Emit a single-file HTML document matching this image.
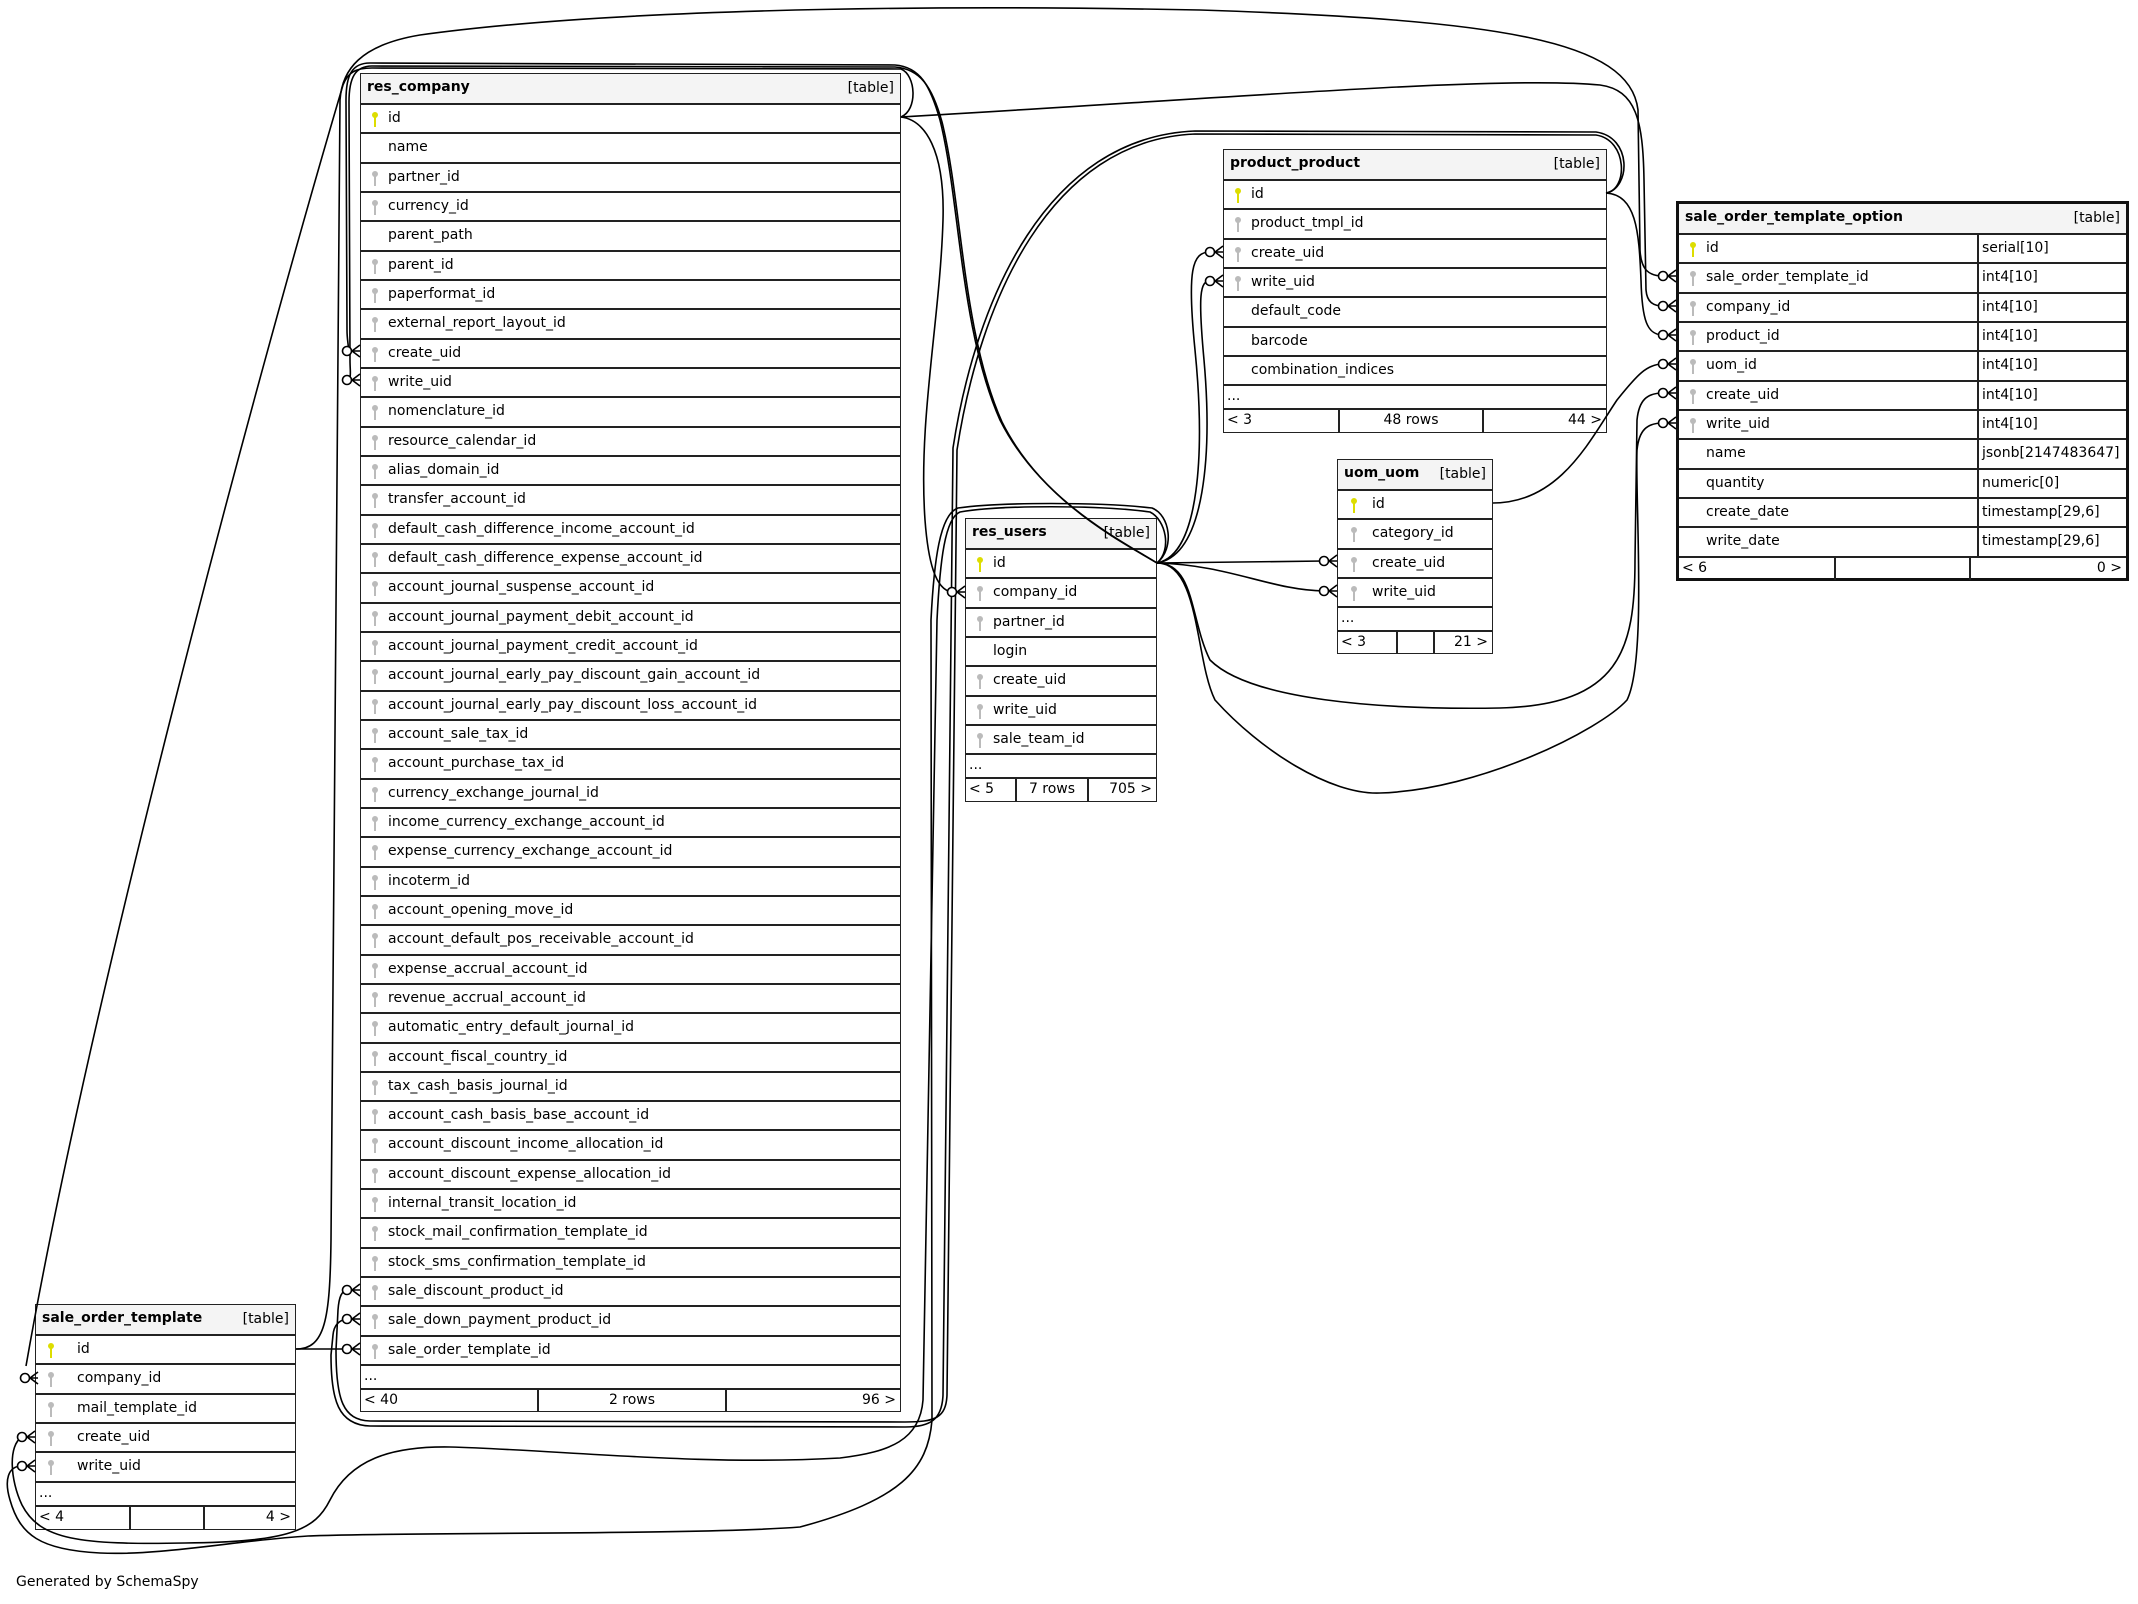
<!DOCTYPE html>
<html><head><meta charset="utf-8">
<style>
html,body{margin:0;padding:0;background:#fff;}
body{width:2138px;height:1604px;position:relative;overflow:hidden;font-family:"DejaVu Sans","Liberation Sans",sans-serif;font-size:14px;color:#000;}
.t{position:absolute;border:1.5px solid #222;background:#fff;box-sizing:border-box;}
.h{height:29px;background:#f4f4f4;position:relative;font-weight:bold;line-height:27px;padding-left:6px;}
.h span{position:absolute;right:6px;top:1px;font-weight:normal;}
.r{height:29.33px;border-top:2px solid #222;box-sizing:border-box;line-height:26px;padding-left:27px;position:relative;white-space:nowrap;}
.d{height:24px;border-top:2px solid #222;box-sizing:border-box;line-height:20px;padding-left:3px;}
.ft{height:24px;border-top:2px solid #222;box-sizing:border-box;line-height:21px;position:relative;}
.ft div{position:absolute;top:0;height:22px;box-sizing:border-box;}
.k::before,.f::before{content:'';position:absolute;left:11px;top:7px;width:6px;height:6px;border-radius:50%;}
.k::after,.f::after{content:'';position:absolute;left:13px;top:11px;width:2px;height:11px;}
.k::before,.k::after{background:#dddd00;}
.f::before,.f::after{background:#bbb;}
.wide .r{padding-left:41px;}
.wide .k::before,.wide .f::before{left:12px}.wide .k::after,.wide .f::after{left:14px}
.mid .r{padding-left:34px;}
.mid .k::before,.mid .f::before{left:13px}.mid .k::after,.mid .f::after{left:15px}
.ty{position:absolute;left:298px;top:0;height:100%;border-left:2px solid #222;padding-left:3px;}
#gen{position:absolute;left:16px;top:1574px;font-size:14px;}
svg{position:absolute;left:0;top:0;}
</style></head><body>

<!-- res_company -->
<div class="t" style="left:360px;top:73px;width:541px;height:1339px;">
<div class="h">res_company<span>[table]</span></div>
<div class="r k">id</div>
<div class="r">name</div>
<div class="r f">partner_id</div>
<div class="r f">currency_id</div>
<div class="r">parent_path</div>
<div class="r f">parent_id</div>
<div class="r f">paperformat_id</div>
<div class="r f">external_report_layout_id</div>
<div class="r f">create_uid</div>
<div class="r f">write_uid</div>
<div class="r f">nomenclature_id</div>
<div class="r f">resource_calendar_id</div>
<div class="r f">alias_domain_id</div>
<div class="r f">transfer_account_id</div>
<div class="r f">default_cash_difference_income_account_id</div>
<div class="r f">default_cash_difference_expense_account_id</div>
<div class="r f">account_journal_suspense_account_id</div>
<div class="r f">account_journal_payment_debit_account_id</div>
<div class="r f">account_journal_payment_credit_account_id</div>
<div class="r f">account_journal_early_pay_discount_gain_account_id</div>
<div class="r f">account_journal_early_pay_discount_loss_account_id</div>
<div class="r f">account_sale_tax_id</div>
<div class="r f">account_purchase_tax_id</div>
<div class="r f">currency_exchange_journal_id</div>
<div class="r f">income_currency_exchange_account_id</div>
<div class="r f">expense_currency_exchange_account_id</div>
<div class="r f">incoterm_id</div>
<div class="r f">account_opening_move_id</div>
<div class="r f">account_default_pos_receivable_account_id</div>
<div class="r f">expense_accrual_account_id</div>
<div class="r f">revenue_accrual_account_id</div>
<div class="r f">automatic_entry_default_journal_id</div>
<div class="r f">account_fiscal_country_id</div>
<div class="r f">tax_cash_basis_journal_id</div>
<div class="r f">account_cash_basis_base_account_id</div>
<div class="r f">account_discount_income_allocation_id</div>
<div class="r f">account_discount_expense_allocation_id</div>
<div class="r f">internal_transit_location_id</div>
<div class="r f">stock_mail_confirmation_template_id</div>
<div class="r f">stock_sms_confirmation_template_id</div>
<div class="r f">sale_discount_product_id</div>
<div class="r f">sale_down_payment_product_id</div>
<div class="r f">sale_order_template_id</div>
<div class="d">...</div>
<div class="ft"><div style="left:3px">&lt; 40</div><div style="left:176px;width:190px;border-left:2px solid #222;border-right:2px solid #222;text-align:center;">2 rows</div><div style="right:4px">96 &gt;</div></div>
</div>

<!-- sale_order_template -->
<div class="t wide" style="left:35px;top:1304px;width:261px;height:226px;">
<div class="h">sale_order_template<span>[table]</span></div>
<div class="r k">id</div>
<div class="r f">company_id</div>
<div class="r f">mail_template_id</div>
<div class="r f">create_uid</div>
<div class="r f">write_uid</div>
<div class="d">...</div>
<div class="ft"><div style="left:3px">&lt; 4</div><div style="left:93px;width:76px;border-left:2px solid #222;border-right:2px solid #222;"></div><div style="right:4px">4 &gt;</div></div>
</div>

<!-- product_product -->
<div class="t" style="left:1223px;top:149px;width:384px;height:284px;">
<div class="h">product_product<span>[table]</span></div>
<div class="r k">id</div>
<div class="r f">product_tmpl_id</div>
<div class="r f">create_uid</div>
<div class="r f">write_uid</div>
<div class="r">default_code</div>
<div class="r">barcode</div>
<div class="r">combination_indices</div>
<div class="d">...</div>
<div class="ft"><div style="left:3px">&lt; 3</div><div style="left:114px;width:146px;border-left:2px solid #222;border-right:2px solid #222;text-align:center;">48 rows</div><div style="right:4px">44 &gt;</div></div>
</div>

<!-- uom_uom -->
<div class="t mid" style="left:1337px;top:459px;width:156px;height:195px;">
<div class="h">uom_uom<span>[table]</span></div>
<div class="r k">id</div>
<div class="r f">category_id</div>
<div class="r f">create_uid</div>
<div class="r f">write_uid</div>
<div class="d">...</div>
<div class="ft"><div style="left:3px">&lt; 3</div><div style="left:58px;width:39px;border-left:2px solid #222;border-right:2px solid #222;"></div><div style="right:4px">21 &gt;</div></div>
</div>

<!-- res_users -->
<div class="t" style="left:965px;top:518px;width:192px;height:284px;">
<div class="h">res_users<span>[table]</span></div>
<div class="r k">id</div>
<div class="r f">company_id</div>
<div class="r f">partner_id</div>
<div class="r">login</div>
<div class="r f">create_uid</div>
<div class="r f">write_uid</div>
<div class="r f">sale_team_id</div>
<div class="d">...</div>
<div class="ft"><div style="left:3px">&lt; 5</div><div style="left:49px;width:74px;border-left:2px solid #222;border-right:2px solid #222;text-align:center;">7 rows</div><div style="right:4px">705 &gt;</div></div>
</div>

<!-- sale_order_template_option -->
<div class="t" style="left:1676px;top:201px;width:453px;height:380px;border:3px solid #111;">
<div class="h">sale_order_template_option<span>[table]</span></div>
<div class="r k">id<div class="ty">serial[10]</div></div>
<div class="r f">sale_order_template_id<div class="ty">int4[10]</div></div>
<div class="r f">company_id<div class="ty">int4[10]</div></div>
<div class="r f">product_id<div class="ty">int4[10]</div></div>
<div class="r f">uom_id<div class="ty">int4[10]</div></div>
<div class="r f">create_uid<div class="ty">int4[10]</div></div>
<div class="r f">write_uid<div class="ty">int4[10]</div></div>
<div class="r">name<div class="ty">jsonb[2147483647]</div></div>
<div class="r">quantity<div class="ty">numeric[0]</div></div>
<div class="r">create_date<div class="ty">timestamp[29,6]</div></div>
<div class="r">write_date<div class="ty">timestamp[29,6]</div></div>
<div class="ft"><div style="left:3px">&lt; 6</div><div style="left:155px;width:137px;border-left:2px solid #222;border-right:2px solid #222;"></div><div style="right:4px">0 &gt;</div></div>
</div>

<div id="gen">Generated by SchemaSpy</div>

<svg width="2138" height="1604" viewBox="0 0 2138 1604">
<defs>
<g id="cf" fill="none" stroke="#000" stroke-width="1.6">
<circle cx="-13" cy="0" r="4.5" fill="#fff"/>
<path d="M-8,0 L0,-6 M-8,0 L0,0 M-8,0 L0,6"/>
</g>
</defs>
<g fill="none" stroke="#000" stroke-width="1.6">
<path d="M296,1349 C325,1349 330,1320 331,1240 L340,100 C342,70 360,45 420,35 C600,10 900,4 1200,10 C1500,20 1630,40 1638,110 L1640,250 C1641,270 1649,276 1663,276"/>
<path d="M296,1349 L347,1349"/>
<path d="M901,117 C1200,100 1500,75 1600,85 C1636,90 1643,120 1644,180 L1646,290 C1647,302 1653,306 1663,306"/>
<path d="M1157,563 C1120,540 1040,500 1000,420 C960,330 960,200 940,120 C930,85 920,67 895,65 L370,63 C352,63 346,75 346,100 L347,330 C347,343 350,349 347,351"/>
<path d="M1157,563 C1122,542 1042,502 1002,422 C962,332 962,202 942,122 C932,86 920,69 895,67 L372,66 C355,66 349,78 349,102 L350,360 C350,373 352,378 347,380"/>
<path d="M901,117 C918,110 916,75 901,69 L372,68 C356,68 348,72 343,85 C250,400 90,1000 26,1366"/>
<path d="M901,117 C925,120 945,150 943,220 C940,320 918,420 925,520 C928,560 935,590 952,592"/>
<path d="M1606,193 C1628,190 1628,140 1596,135 L1195,134 C1050,140 980,300 957,450 L947,1395 C946,1418 935,1422 905,1422 L370,1421 C343,1420 336,1400 336,1350 L338,1310 C339,1296 342,1291 347,1290"/>
<path d="M1606,193 C1631,188 1632,137 1596,132 L1195,131 C1047,137 976,298 953,448 L943,1395 C942,1420 930,1427 905,1427 L370,1426 C338,1425 331,1400 331,1355 L333,1335 C334,1324 340,1320 347,1319"/>
<path d="M1157,563 L1324,561"/>
<path d="M1157,563 C1230,565 1270,590 1324,591"/>
<path d="M1157,563 C1200,555 1205,450 1195,350 C1187,270 1192,252 1210,252"/>
<path d="M1157,563 C1206,555 1212,450 1204,360 C1198,295 1200,281 1210,281"/>
<path d="M1157,563 C1195,563 1190,620 1210,660 C1250,700 1380,710 1500,708 C1620,705 1635,650 1635,560 L1637,420 C1639,400 1647,393 1663,393"/>
<path d="M1157,563 C1200,563 1195,660 1215,700 C1260,750 1330,795 1380,793 C1480,790 1600,730 1627,700 C1647,660 1635,500 1637,450 C1639,430 1647,423 1663,423"/>
<path d="M1157,563 C1172,550 1166,520 1150,512 C1100,505 1000,505 960,512 C945,518 940,560 937,620 L923,1400 C920,1440 890,1452 840,1458 C700,1466 560,1450 450,1447 C390,1446 350,1460 330,1500 C315,1530 290,1542 185,1543 C80,1545 40,1540 22,1505 C10,1480 8,1445 22,1437"/>
<path d="M1157,563 C1175,548 1170,515 1152,508 C1100,502 1000,502 958,508 C940,514 934,560 931,620 L932,1420 C928,1470 900,1500 800,1527 C700,1535 400,1532 308,1536 C240,1540 160,1556 100,1553 C40,1550 20,1535 10,1500 C4,1480 8,1466 22,1466"/>
<path d="M1493,503 C1560,503 1590,440 1617,400 C1637,375 1647,364 1663,364"/>
<path d="M1606,193 C1636,195 1639,230 1641,280 C1642,320 1647,335 1663,335"/>
</g>
<use href="#cf" x="360" y="351"/>
<use href="#cf" x="360" y="380"/>
<use href="#cf" x="360" y="1290"/>
<use href="#cf" x="360" y="1319"/>
<use href="#cf" x="360" y="1349"/>
<use href="#cf" x="38" y="1378"/>
<use href="#cf" x="35" y="1437"/>
<use href="#cf" x="35" y="1466"/>
<use href="#cf" x="965" y="592"/>
<use href="#cf" x="1223" y="252"/>
<use href="#cf" x="1223" y="281"/>
<use href="#cf" x="1337" y="561"/>
<use href="#cf" x="1337" y="591"/>
<use href="#cf" x="1676" y="276"/>
<use href="#cf" x="1676" y="306"/>
<use href="#cf" x="1676" y="335"/>
<use href="#cf" x="1676" y="364"/>
<use href="#cf" x="1676" y="393"/>
<use href="#cf" x="1676" y="423"/>
</svg>
</body></html>
